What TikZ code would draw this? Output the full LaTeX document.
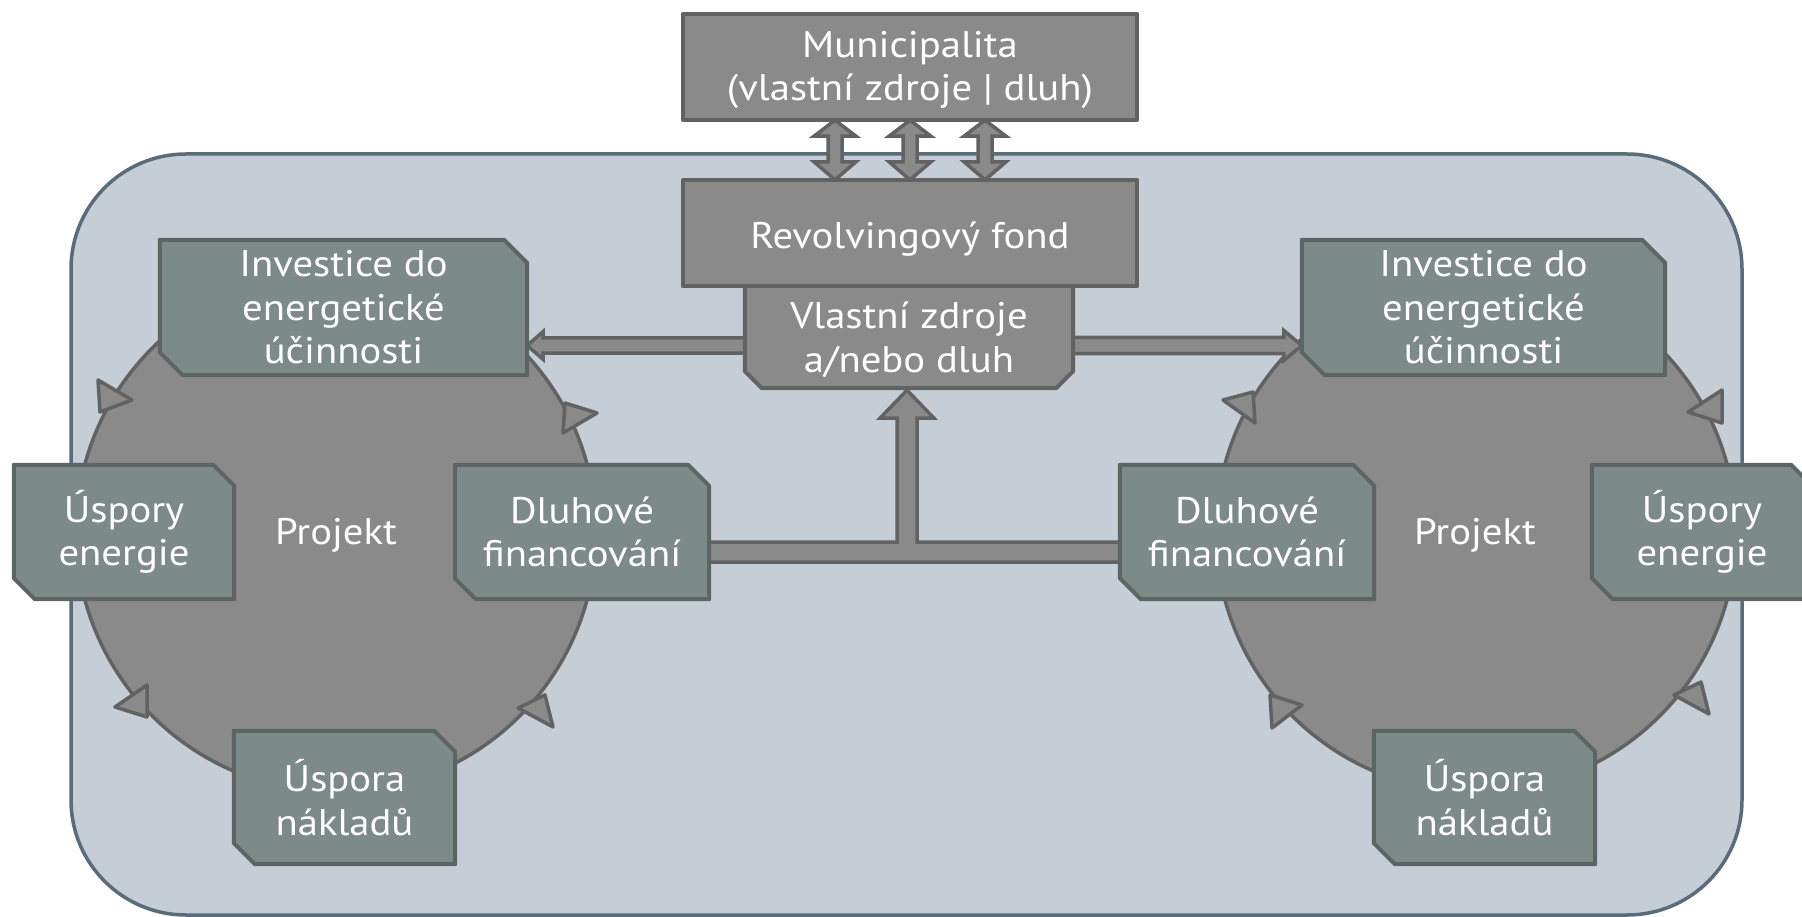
\documentclass[tikz,border=0pt]{standalone}
\usepackage{fontspec}
\setmainfont{PT Sans}[FakeStretch=1.1]
\usetikzlibrary{calc}
\definecolor{bgfill}{HTML}{C5CDD6}
\definecolor{bgline}{HTML}{5A6B7A}
\definecolor{gfill}{HTML}{8A8A8A}
\definecolor{gline}{HTML}{626262}
\definecolor{tfill}{HTML}{7C8A88}
\definecolor{tline}{HTML}{5C6563}
\pgfdeclarelayer{back}
\pgfsetlayers{back,main}
\tikzset{
  lbl/.style={text=white, align=center, font=\fontsize{37}{43.5}\selectfont, inner sep=0pt},
  gbox/.style={fill=gfill, draw=gline, line width=4pt, line join=round},
  tbox/.style={fill=tfill, draw=tline, line width=4pt, line join=round},
  ring/.style={circle, fill=gfill, draw=gline, line width=3.5pt, minimum size=520pt, inner sep=0pt},
  tri/.style={fill=gfill, draw=gline, line width=3.5pt, line join=round},
  blk/.style={fill=gfill, draw=gline, line width=3.5pt, line join=miter},
  frame/.style={fill=bgfill, draw=bgline, line width=3.5pt, rounded corners=115pt},
}
\newcommand\chamNESW[2]{%
  \path[tbox] (#1.north west) -- ([xshift=-#2]#1.north east) -- ([yshift=-#2]#1.north east)
    -- (#1.south east) -- ([xshift=#2]#1.south west) -- ([yshift=#2]#1.south west) -- cycle;}
\begin{document}
\begin{tikzpicture}[x=1pt,y=-1pt]
\useasboundingbox (0,0) rectangle (1802,917);
% ---- box nodes (geometry) ----
\node[minimum width=454pt, minimum height=106pt, inner sep=0pt] (muni) at (910,67) {};
\node[minimum width=454pt, minimum height=106pt, inner sep=0pt] (fund) at (910,233) {};
\node[minimum width=328pt, minimum height=102pt, inner sep=0pt] (vz) at (909,337) {};
% left cycle
\node[lbl, minimum width=367pt, minimum height=135pt] (invL) at (343.5,307.5) {Investice do\\energetické\\účinnosti};
\node[lbl, minimum width=220pt, minimum height=134pt] (useL) at (124,532) {Úspory\\energie};
\node[lbl, minimum width=254pt, minimum height=134pt] (dluL) at (582,532) {Dluhové\\financování};
\node[lbl, minimum width=221pt, minimum height=133pt] (uspL) at (344.5,797.5) {Úspora\\nákladů};
\node[lbl] (prjL) at (336,535) {Projekt};
% right cycle
\node[lbl, minimum width=363pt, minimum height=135pt] (invR) at (1483.5,307.5) {Investice do\\energetické\\účinnosti};
\node[lbl, minimum width=220pt, minimum height=134pt] (useR) at (1702,532) {Úspory\\energie};
\node[lbl, minimum width=254pt, minimum height=134pt] (dluR) at (1247,532) {Dluhové\\financování};
\node[lbl, minimum width=221pt, minimum height=133pt] (uspR) at (1484.5,797.5) {Úspora\\nákladů};
\node[lbl] (prjR) at (1475,535) {Projekt};
% texts of gray boxes
\node[lbl] (muniT) at ($(muni.center)+(0,3)$) {Municipalita\\(vlastní zdroje | dluh)};
\node[lbl] (fundT) at ($(fund.center)+(0,6)$) {Revolvingový fond};
\node[lbl] (vzT) at ($(vz.center)+(0,3)$) {Vlastní zdroje\\a/nebo dluh};
\begin{pgfonlayer}{back}
% frame
\path[frame] (71,154) rectangle (1742,915);
% cycles
\node[ring] (cycL) at (336,532) {};
\node[ring] (cycR) at (1476,532) {};
% cycle arrowheads
\path[tri] ($(cycL)+(-238,-152)$) -- ($(cycL)+(-204,-132)$) -- ($(cycL)+(-236,-120)$) -- cycle;
\path[tri] ($(cycL)+(229,-129)$) -- ($(cycL)+(261,-119)$) -- ($(cycL)+(227,-99)$) -- cycle;
\path[tri] ($(cycL)+(-189,153)$) -- ($(cycL)+(-221,175)$) -- ($(cycL)+(-189,185)$) -- cycle;
\path[tri] ($(cycL)+(182,176)$) -- ($(cycL)+(209,163)$) -- ($(cycL)+(217,195)$) -- cycle;
\path[tri] ($(cycR)+(-253,-132)$) -- ($(cycR)+(-223,-140)$) -- ($(cycR)+(-221,-109)$) -- cycle;
\path[tri] ($(cycR)+(212,-120)$) -- ($(cycR)+(246,-142)$) -- ($(cycR)+(246,-109)$) -- cycle;
\path[tri] ($(cycR)+(-206,163)$) -- ($(cycR)+(-174,173)$) -- ($(cycR)+(-204,196)$) -- cycle;
\path[tri] ($(cycR)+(198,163)$) -- ($(cycR)+(225,150)$) -- ($(cycR)+(233,182)$) -- cycle;
% double arrows municipality <-> fund
\foreach \dx in {-75,0,75}{
  \path[blk] ([xshift=\dx pt]muni.south) -- ++(21,16) -- ++(-14,0)
    -- ($([xshift=\dx pt]fund.north)+(7,-18)$) -- ++(14,0) -- ([xshift=\dx pt]fund.north)
    -- ++(-21,-18) -- ++(14,0) -- ($([xshift=\dx pt]muni.south)+(-7,16)$) -- ++(-14,0) -- cycle;
}
% arrow to left investment
\coordinate (aL) at ($(invL.east)+(0,38)$);
\coordinate (aLs) at (aL -| vz.center);
\path[blk] (aL) -- ++(16,-14) -- ++(0,6.5) -- ($(aLs)+(0,-7.5)$) -- ($(aLs)+(0,7.5)$)
  -- ($(aL)+(16,7.5)$) -- ++(0,6.5) -- cycle;
% arrow to right investment
\coordinate (aR) at ($(invR.west)+(0,38)$);
\coordinate (aRs) at (aR -| vz.center);
\path[blk] (aR) -- ++(-18,-15) -- ++(0,7) -- ($(aRs)+(0,-8)$) -- ($(aRs)+(0,8)$)
  -- ($(aR)+(-18,8)$) -- ++(0,7) -- cycle;
% debt financing T-arrow
\coordinate (tL) at ($(dluL.east)+(-5,20)$);
\coordinate (tR) at ($(dluR.west)+(5,20)$);
\coordinate (tT) at ($(vz.south)+(-2,2)$);
\path[blk] ($(tL)+(0,-10)$) -- ($(tT |- tL)+(-10,-10)$) -- ($(tT)+(-10,28)$) -- ++(-17,0) -- (tT)
  -- ($(tT)+(27,28)$) -- ++(-17,0) -- ($(tT |- tL)+(10,-10)$) -- ($(tR)+(0,-10)$)
  -- ($(tR)+(0,10)$) -- ($(tL)+(0,10)$) -- cycle;
% gray boxes
\path[gbox] (muni.north west) rectangle (muni.south east);
\path[gbox] (vz.north west) -- (vz.north east) -- ([yshift=17pt]vz.south east) -- ([xshift=-17pt]vz.south east)
  -- ([xshift=17pt]vz.south west) -- ([yshift=17pt]vz.south west) -- cycle;
\path[gbox] (fund.north west) rectangle (fund.south east);
% teal boxes
\chamNESW{invL}{23pt}
\chamNESW{useL}{21pt}
\chamNESW{dluL}{21pt}
\chamNESW{uspL}{21pt}
\chamNESW{invR}{23pt}
\chamNESW{useR}{21pt}
\chamNESW{dluR}{21pt}
\chamNESW{uspR}{21pt}
\end{pgfonlayer}
\end{tikzpicture}
\end{document}
